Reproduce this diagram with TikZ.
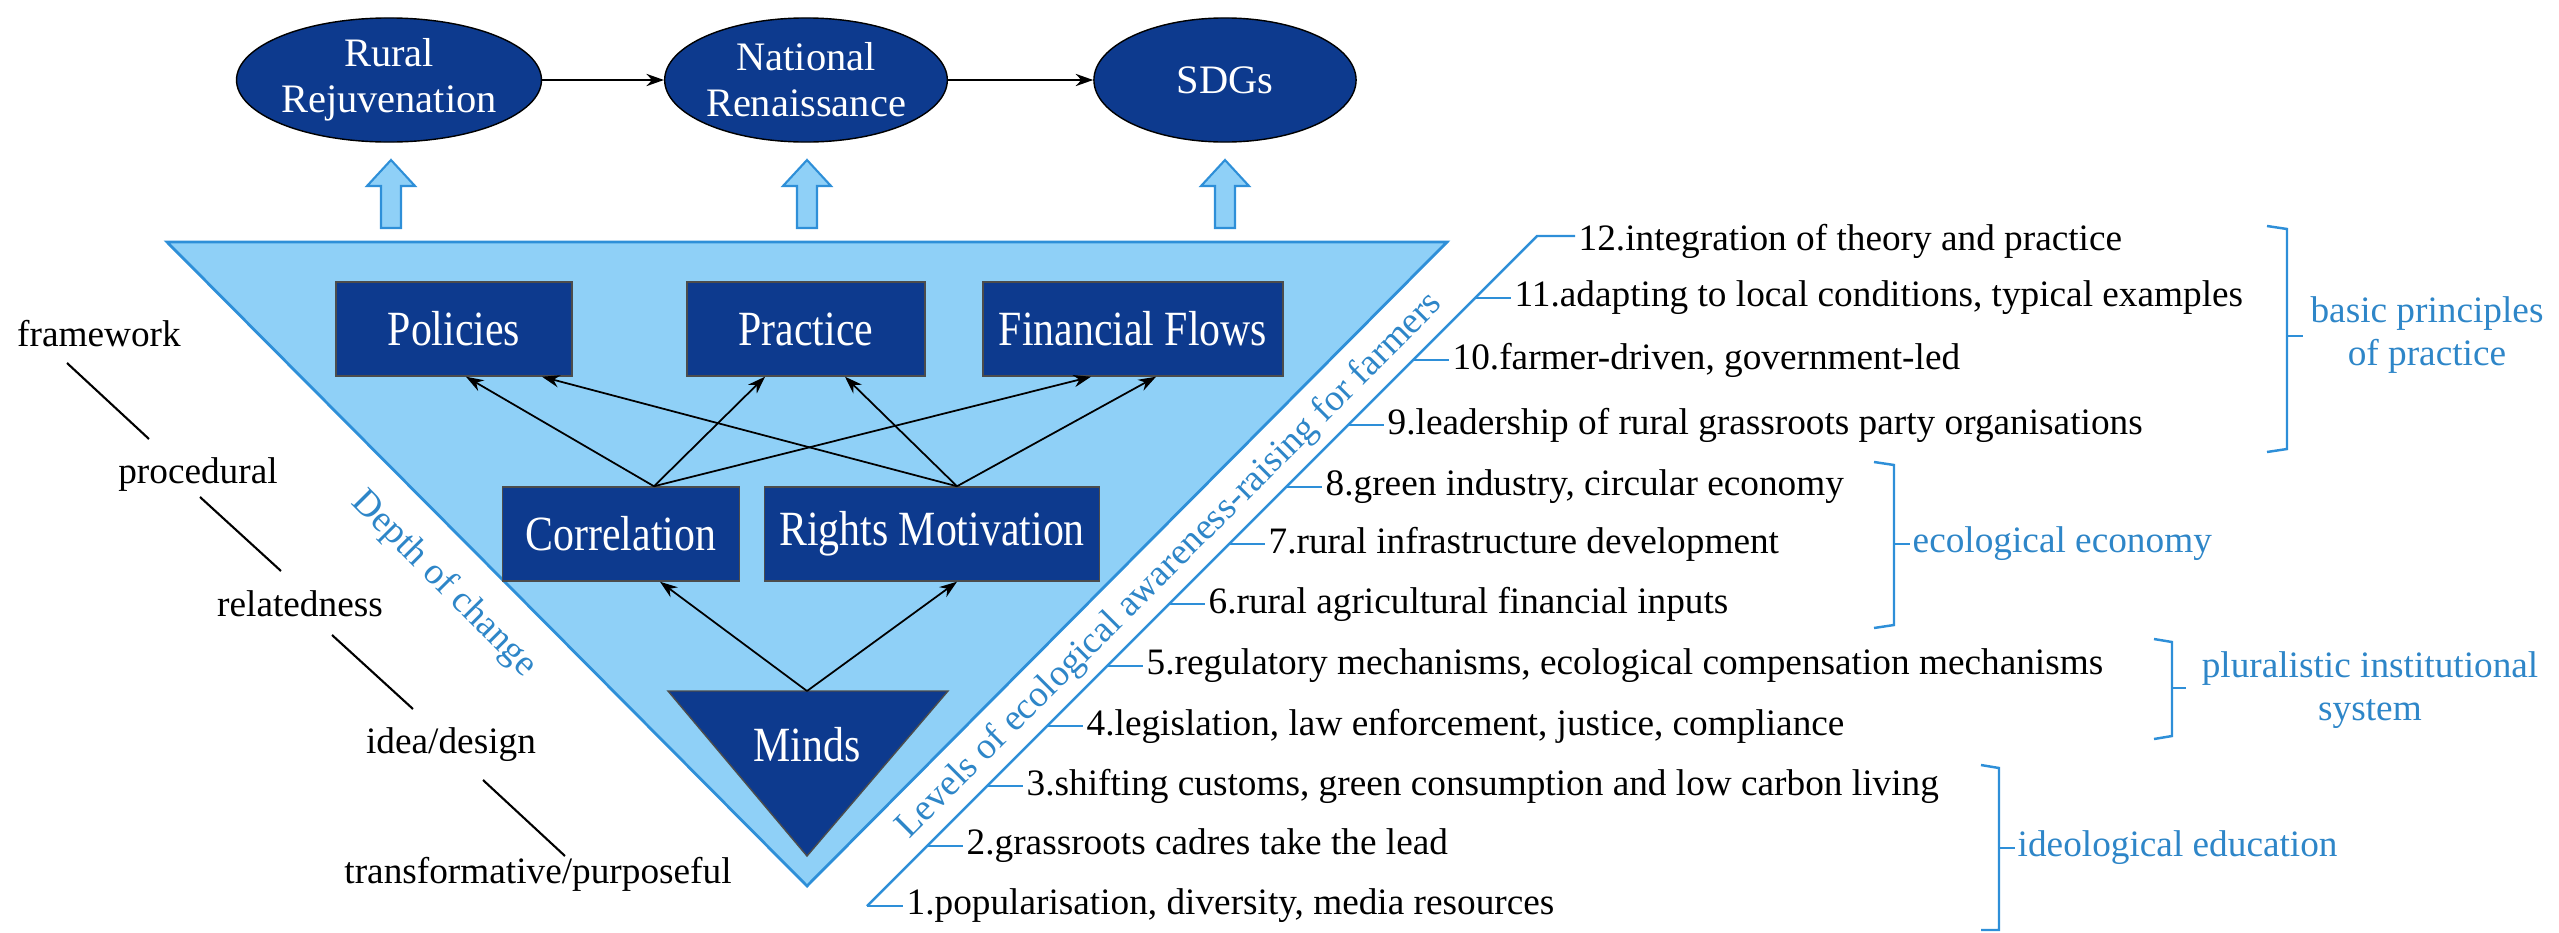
\documentclass[tikz,border=0pt]{standalone}
\usepackage{fontspec}
\setmainfont{Liberation Serif}
\newfontfamily\boxfont{Liberation Serif}[FakeStretch=0.85]
\usetikzlibrary{arrows.meta,calc,shapes.geometric}
\definecolor{dblue}{HTML}{0D3A8E}
\definecolor{lblue}{HTML}{8FD0F7}
\definecolor{mblue}{HTML}{2E8FD8}
\definecolor{tblue}{HTML}{2E86C8}
\tikzset{
  ell/.style={ellipse,fill=dblue,draw=black,line width=0.4pt,minimum width=262\un,minimum height=124\un,inner sep=0pt,text=white,align=center,font=\fontsize{11.5}{13}\selectfont},
  bx/.style={rectangle,fill=dblue,draw=black!70,line width=0.4pt,minimum height=94\un,inner sep=0pt,text=white,font=\boxfont\fontsize{14}{16}\selectfont},
  arr/.style={-{Stealth[length=5pt,width=3.5pt]},line width=0.5pt},
  lbl/.style={font=\fontsize{10.6}{12}\selectfont,inner sep=0pt},
  item/.style={anchor=west,font=\fontsize{10.6}{12}\selectfont,inner sep=0pt},
  bluelbl/.style={text=tblue,font=\fontsize{10.6}{12}\selectfont,inner sep=0pt,align=center},
  bline/.style={draw=mblue,line width=0.7pt},
  hollow/.style={fill=lblue,draw=mblue,line width=0.6pt}
}
\newcommand{\un}{mm*0.1}
\begin{document}
\begin{tikzpicture}[x=0.01cm,y=-0.01cm]
\useasboundingbox (0,0) rectangle (2559,933);
% top ellipses
\node[ell] (rr) at (389,80) {Rural\\Rejuvenation};
\node[ell] (nr) at (806,80) {National\\Renaissance};
\node[ell] (sd) at (1225,80) {SDGs};
\draw[arr] (rr) -- (nr);
\draw[arr] (nr) -- (sd);
% hollow arrows
\foreach \xx in {391,807,1225}{
  \draw[hollow] (\xx-10,228) -- (\xx-10,186) -- (\xx-24,186) -- (\xx,160) -- (\xx+24,186) -- (\xx+10,186) -- (\xx+10,228) -- cycle;
}
% big triangle
\draw[fill=lblue,draw=mblue,line width=0.8pt] (167,242) -- (1447,242) -- (807,886) -- cycle;
% boxes
\node[bx,minimum width=236\un] (pol) at (454,329) {Policies};
\node[bx,minimum width=238\un] (pra) at (806,329) {Practice};
\node[bx,minimum width=300\un] (ff) at (1133,329) {Financial Flows};
\node[bx,minimum width=237\un] (cor) at (621,534) {Correlation};
\node[bx,minimum width=335\un] (rm) at (932,534) {Rights Motivation};
% Minds triangle
\draw[fill=dblue,draw=black!70,line width=0.4pt] (668,691) -- (948,691) -- (807,856) -- cycle;
\node[text=white,font=\boxfont\fontsize{14}{16}\selectfont] (mi) at (807,745) {Minds};
\coordinate (mtop) at (807,691);
% arrows
\coordinate (ct) at ($(cor.north)+(33,0)$);
\coordinate (rt) at ($(rm.north)+(25,0)$);
\draw[arr] (ct) -- ($(pol.south)+(12,0)$);
\draw[arr] (ct) -- ($(pra.south)+(-41,0)$);
\draw[arr] (ct) -- ($(ff.south)+(-42,0)$);
\draw[arr] (rt) -- ($(pol.south)+(88,0)$);
\draw[arr] (rt) -- ($(pra.south)+(39,0)$);
\draw[arr] (rt) -- ($(ff.south)+(23,0)$);
\draw[arr] (mtop) -- ($(cor.south)+(39,0)$);
\draw[arr] (mtop) -- ($(rm.south)+(25,0)$);
% left labels
\node[lbl] (l1) at (99,334) {framework};
\node[lbl] (l2) at (198,475) {procedural};
\node[lbl] (l3) at (300,604) {relatedness};
\node[lbl] (l4) at (451,745) {idea/design};
\node[lbl] (l5) at (538,874) {transformative/purposeful};
\draw[line width=0.6pt] (67,363) -- (149,439);
\draw[line width=0.6pt] (200,497) -- (281,571);
\draw[line width=0.6pt] (332,635) -- (413,709);
\draw[line width=0.6pt] (483,780) -- (565,856);
\node[text=tblue,rotate=-45.2,font=\fontsize{10.6}{12}\selectfont] (doc) at (444,584) {Depth of change};
% staircase
\coordinate (dbot) at (867,906);
\coordinate (dtop) at (1537,236);
\draw[bline] (dbot) -- (dtop) -- ++(38,0) coordinate (t12);
\node[item] (i12) at (1578,241) {12.integration of theory and practice};
\foreach \yy/\nn/\tx in {298/11/{11.adapting to local conditions, typical examples},
  360/10/{10.farmer-driven, government-led},
  425/9/{9.leadership of rural grassroots party organisations},
  487/8/{8.green industry, circular economy},
  544/7/{7.rural infrastructure development},
  604/6/{6.rural agricultural financial inputs},
  666/5/{5.regulatory mechanisms, ecological compensation mechanisms},
  726/4/{4.legislation, law enforcement, justice, compliance},
  786/3/{3.shifting customs, green consumption and low carbon living},
  846/2/{2.grassroots cadres take the lead},
  906/1/{1.popularisation, diversity, media resources}}{
  \pgfmathsetmacro{\xs}{867+(906-\yy)}
  \draw[bline] (\xs,\yy) -- (\xs+36,\yy) coordinate (tk\nn);
  \node[item] (i\nn) at (\xs+39,\yy) {\tx};
}
\node[text=tblue,rotate=45,font=\fontsize{10.6}{12}\selectfont] (lev) at (1170,566) {Levels of ecological awareness-raising for farmers};
% braces
\draw[bline] (2267,226) -- (2287,229) -- (2287,449) -- (2267,452);
\draw[bline] (2287,336) -- (2303,336);
\node[bluelbl] (b1) at (2427,335) {basic principles\\of practice};
\draw[bline] (1874,462) -- (1894,465) -- (1894,625) -- (1874,628);
\draw[bline] (1894,544) -- (1910,544);
\node[bluelbl,anchor=west] (b2) at (1912,544) {ecological economy};
\draw[bline] (2154,639) -- (2172,642) -- (2172,736) -- (2154,739);
\draw[bline] (2172,688) -- (2186,688);
\node[bluelbl] (b3) at (2370,690) {pluralistic institutional\\system};
\draw[bline] (1981,765) -- (1999,768) -- (1999,930) -- (1981,930);
\draw[bline] (1999,848) -- (2015,848);
\node[bluelbl,anchor=west] (b4) at (2017,848) {ideological education};
\end{tikzpicture}
\end{document}
